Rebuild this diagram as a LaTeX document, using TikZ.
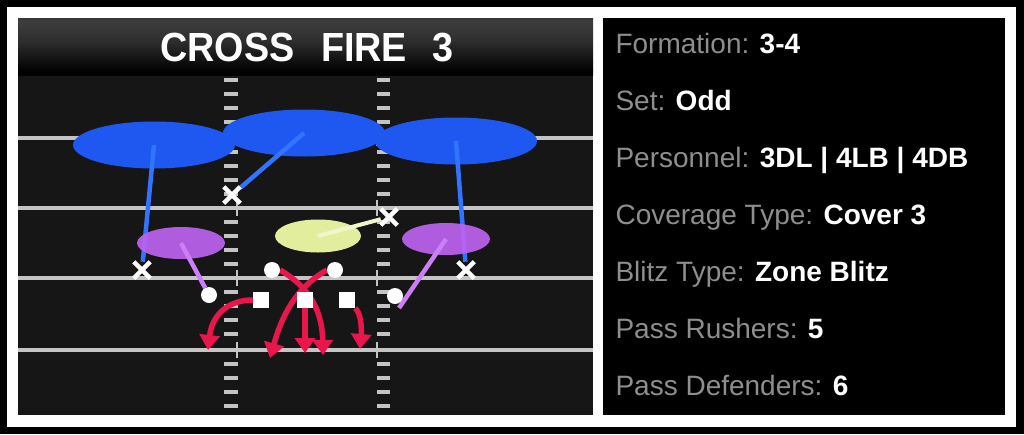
\documentclass[tikz,border=0pt]{standalone}
\usepackage{fontspec}
\setmainfont{Liberation Sans}
\usepackage{tikz}
\usetikzlibrary{positioning,shapes.geometric,shapes.misc,arrows.meta}
\definecolor{zoneblue}{RGB}{30,88,240}
\definecolor{lineblue}{RGB}{50,115,255}
\definecolor{hookpurple}{RGB}{188,98,238}
\definecolor{hookline}{RGB}{204,126,244}
\definecolor{flatyellow}{RGB}{226,238,158}
\definecolor{rushred}{RGB}{232,22,74}
\definecolor{labelgray}{RGB}{142,142,142}
\definecolor{yardgray}{RGB}{196,196,196}
\definecolor{turf}{RGB}{22,22,22}
\pgfdeclareverticalshading{header}{100bp}{color(0bp)=(black); color(28bp)=(black); color(55bp)=(black!82); color(72bp)=(black!76); color(88bp)=(black!90); color(100bp)=(black)}
\pgfdeclarelayer{field}
\pgfdeclarelayer{zones}
\pgfdeclarelayer{routes}
\pgfsetlayers{field,zones,routes,main}

\begin{document}
\begin{tikzpicture}[x=1pt, y=-1pt,
  zone/.style={ellipse, fill=zoneblue, inner sep=0pt, minimum width=162pt, minimum height=47pt},
  hook/.style={ellipse, fill=hookpurple, fill opacity=0.93, inner sep=0pt, minimum width=88pt, minimum height=32pt},
  flat/.style={ellipse, fill=flatyellow, inner sep=0pt, minimum width=86pt, minimum height=33pt},
  rusher/.style={circle, fill=white, inner sep=0pt, minimum size=16pt},
  lineman/.style={rectangle, fill=white, inner sep=0pt, minimum size=16pt},
  cover/.style={cross out, draw=white, line width=4.5pt, inner sep=0pt, minimum size=12pt},
  drop/.style={line width=4.5pt},
  rush/.style={draw=rushred, line width=5.5pt, -{Triangle[length=15pt,width=20pt]}},
  info/.style={anchor=base west, font=\fontsize{28}{34}\selectfont, text=white}]
  \useasboundingbox (0,0) rectangle (1024,434);
  \begin{pgfonlayer}{field}
    \fill[black] (0,0) rectangle (1024,434);
    \fill[white] (7,7) rectangle (1016,427);
    \fill[turf] (18,18) rectangle (593,415);
    \shade[shading=header] (18,18) rectangle (593,75);
    \fill[black] (603,18) rectangle (1005,415);
    % yard lines, hashes
    \foreach \y in {138,208,278,350} {
      \draw[yardgray, line width=4pt] (18,\y) -- (593,\y);
      \draw[yardgray, line width=1.2pt] (237,{\y-8}) -- (237,{\y+8});
      \draw[yardgray, line width=1.2pt] (377,{\y-8}) -- (377,{\y+8});
    }
    \foreach \L in {66,138,208,278,350}
      \foreach \k in {1,...,4} {
        \fill[yardgray] (224,{\L+14*\k-2}) rectangle (238,{\L+14*\k+2});
        \fill[yardgray] (377,{\L+14*\k-2}) rectangle (390,{\L+14*\k+2});
      }
  \end{pgfonlayer}

  \node[text=white, font=\fontsize{37}{40}\selectfont\bfseries] (title) at (307,48) {\scalebox{1.02}[1.1]{CROSS\hspace{26pt}FIRE\hspace{25pt}3}};

  % defense
  \node[cover] (cbL) at (142,270) {};
  \node[cover] (fs) at (232,195) {};
  \node[cover] (cbR) at (466,270) {};
  \node[cover] (mlb) at (389,217) {};
  \node[rusher] (olbL) at (209,295) {};
  \node[rusher] (ileL) at (272,270) {};
  \node[rusher] (ileR) at (335,270) {};
  \node[rusher] (olbR) at (395,296) {};
  \node[lineman] (deL) at (261,300) {};
  \node[lineman] (nt) at (305,300) {};
  \node[lineman] (deR) at (347,300) {};

  \begin{pgfonlayer}{zones}
    \node[zone] (deepL) at (154,145) {};
    \node[zone] (deepM) at (304,133) {};
    \node[zone] (deepR) at (456,141) {};
    \draw[drop, lineblue] (deepL.center) -- (cbL);
    \draw[drop, lineblue] (deepM.center) -- (fs);
    \draw[drop, lineblue] (deepR.center) -- (cbR);
    \node[hook] (hookL) at (181,243) {};
    \node[hook] (hookR) at (446,239) {};
    \coordinate (hookEnd) at (399,308);
    \draw[drop, hookline] (hookL.center) -- (olbL);
    \draw[drop, hookline] (hookR.center) -- (hookEnd);
    \node[flat] (flatM) at (318,236) {};
    \draw[line width=4pt, flatyellow!55!white] (flatM.center) -- (mlb);
  \end{pgfonlayer}

  \begin{pgfonlayer}{routes}
    \coordinate (gapA) at (208,350);
    \coordinate (gapB) at (270,358);
    \coordinate (gapC) at (305,353);
    \coordinate (gapD) at (323,355);
    \coordinate (gapE) at (360,349);
    \draw[rush] (deL.west) .. controls (228,300) and (212,315) .. (gapA);
    \draw[rush] (ileR.west) .. controls (302,285) and (285,305) .. (gapB);
    \draw[rush] (nt.center) -- (gapC);
    \draw[rush] (ileL.east) .. controls (305,285) and (322,305) .. (gapD);
    \draw[rush] (deR.south east) .. controls (360,312) and (362,325) .. (gapE);
  \end{pgfonlayer}

  % call sheet
  \node[info] (formation) at (612,53) {{\color{labelgray}Formation:} \textbf{3-4}};
  \node[info] (set) at (612,110) {{\color{labelgray}Set:} \textbf{Odd}};
  \node[info] (personnel) at (612,167) {{\color{labelgray}Personnel:} \textbf{3DL | 4LB | 4DB}};
  \node[info] (coverage) at (612,224) {{\color{labelgray}Coverage Type:} \textbf{Cover 3}};
  \node[info] (blitz) at (612,281) {{\color{labelgray}Blitz Type:} \textbf{Zone Blitz}};
  \node[info] (rushers) at (612,338) {{\color{labelgray}Pass Rushers:} \textbf{5}};
  \node[info] (defenders) at (612,395) {{\color{labelgray}Pass Defenders:} \textbf{6}};
\end{tikzpicture}
\end{document}
